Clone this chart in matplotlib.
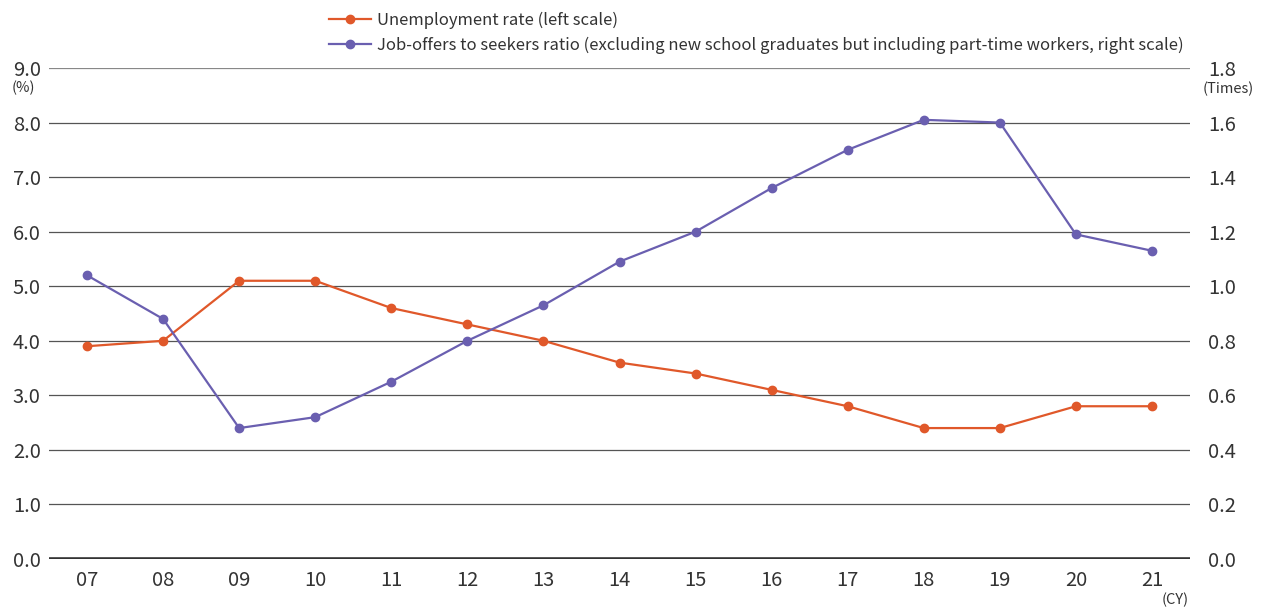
import matplotlib
matplotlib.use("Agg")
import matplotlib.pyplot as plt
from matplotlib.lines import Line2D

plt.rcParams['font.family'] = ['Noto Sans CJK JP', 'DejaVu Sans']

years = ["07", "08", "09", "10", "11", "12", "13", "14", "15", "16", "17", "18", "19", "20", "21"]
unemployment = [3.9, 4.0, 5.1, 5.1, 4.6, 4.3, 4.0, 3.6, 3.4, 3.1, 2.8, 2.4, 2.4, 2.8, 2.8]
job_ratio = [1.04, 0.88, 0.48, 0.52, 0.65, 0.80, 0.93, 1.09, 1.20, 1.36, 1.50, 1.61, 1.60, 1.19, 1.13]
left_ticks = [0.0, 1.0, 2.0, 3.0, 4.0, 5.0, 6.0, 7.0, 8.0, 9.0]
right_ticks = [0.0, 0.2, 0.4, 0.6, 0.8, 1.0, 1.2, 1.4, 1.6, 1.8]

orange = "#E0582A"
purple = "#6A5FB0"
txt = "#333333"

fig = plt.figure(figsize=(12.72, 6.10), dpi=100)
ax = fig.add_axes([49 / 1272, 1 - 559 / 610, (1190 - 49) / 1272, (559 - 68) / 610])
ax2 = ax.twinx()

x = list(range(len(years)))

# horizontal grid
for v in left_ticks[1:]:
    ax.axhline(v, color="#555555" if v < 9 else "#888888", lw=0.9, zorder=1)
ax.axhline(0, color="#333333", lw=2.6, zorder=2)

ax.plot(x, unemployment, color=orange, lw=1.6, marker="o", ms=6, zorder=5)
ax2.plot(x, job_ratio, color=purple, lw=1.6, marker="o", ms=6, zorder=5)

ax.set_xlim(-0.5, len(years) - 0.5)
ax.set_ylim(0, 9)
ax2.set_ylim(0, 1.8)

ax.set_yticks(left_ticks)
ax.set_yticklabels([f"{v:.1f}" for v in left_ticks])
ax2.set_yticks(right_ticks)
ax2.set_yticklabels([f"{v:.1f}" for v in right_ticks])
ax.set_xticks(x)
ax.set_xticklabels(years)

for a in (ax, ax2):
    for s in a.spines.values():
        s.set_visible(False)
    a.tick_params(length=0, labelsize=14.5, colors=txt)
ax.tick_params(axis="y", pad=6)
ax2.tick_params(axis="y", pad=13)
ax.tick_params(axis="x", pad=8)

fig.text(12 / 1272, 1 - 88 / 610, "(%)", fontsize=10.5, color=txt, va="center", ha="left")
fig.text(1203 / 1272, 1 - 89 / 610, "(Times)", fontsize=10.5, color=txt, va="center", ha="left")
fig.text(1175 / 1272, 1 - 600 / 610, "(CY)", fontsize=10.5, color=txt, va="center", ha="center")

# legend
handles = [
    Line2D([], [], color=orange, lw=1.6, marker="o", ms=6),
    Line2D([], [], color=purple, lw=1.6, marker="o", ms=6),
]
labels = [
    "Unemployment rate (left scale)",
    "Job-offers to seekers ratio (excluding new school graduates but including part-time workers, right scale)",
]
fig.legend(handles, labels, loc="upper left", bbox_to_anchor=(314 / 1272, 1 + 3 / 610),
           frameon=False, fontsize=12, handlelength=2.5, handletextpad=0.4,
           labelspacing=0.45, labelcolor=txt)

fig.savefig("out.png", dpi=100)
